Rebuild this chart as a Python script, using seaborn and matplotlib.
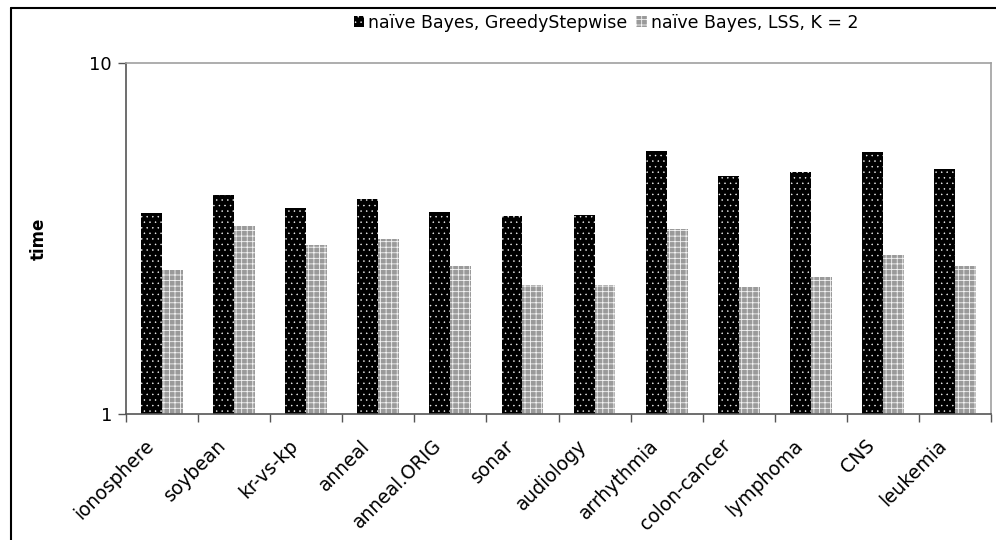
import numpy as np
import pandas as pd
import matplotlib
matplotlib.use("Agg")
import matplotlib.pyplot as plt
from matplotlib.patches import Patch
from matplotlib.lines import Line2D
from matplotlib.transforms import ScaledTranslation
import seaborn as sns

datasets = ["ionosphere", "soybean", "kr-vs-kp", "anneal", "anneal.ORIG", "sonar",
            "audiology", "arrhythmia", "colon-cancer", "lymphoma", "CNS", "leukemia"]
greedy_times = [3.73, 4.21, 3.86, 4.10, 3.76, 3.66, 3.69, 5.61, 4.76, 4.89, 5.58, 4.99]
lss_times = [2.58, 3.43, 3.03, 3.15, 2.64, 2.33, 2.33, 3.37, 2.30, 2.46, 2.84, 2.64]
series_names = ["naïve Bayes, GreedyStepwise", "naïve Bayes, LSS, K = 2"]

df = pd.DataFrame({
    "dataset": datasets * 2,
    "time": greedy_times + lss_times,
    "method": [series_names[0]] * len(datasets) + [series_names[1]] * len(datasets),
})

sns.set_style("white")
plt.rcParams["font.family"] = ["DejaVu Sans"]
plt.rcParams["text.color"] = "black"
plt.rcParams["xtick.color"] = "black"
plt.rcParams["ytick.color"] = "black"
plt.rcParams["axes.labelcolor"] = "black"
plt.rcParams["hatch.linewidth"] = 0.5

fig = plt.figure(figsize=(9.96, 5.40), dpi=100)
ax = fig.add_axes([126 / 996, 1 - 414 / 540, (991 - 126) / 996, (414 - 63) / 540])

sns.barplot(data=df, x="dataset", y="time", hue="method", order=datasets,
            hue_order=series_names, width=0.58, legend=False,
            palette=["black", "#9a9a9a"], saturation=1, ax=ax)
ax.set_yscale("log")

styles = [
    dict(facecolor="black", edgecolor="white", hatch="..."),
    dict(facecolor="#9a9a9a", edgecolor="#f4f4f4", hatch="+++"),
]
hatch_widths = [0.3, 0.6]


def style_patch(p, st, hw):
    p.set_facecolor(st["facecolor"])
    p.set_edgecolor(st["edgecolor"])
    p.set_hatch(st["hatch"])
    p.set_linewidth(0)
    if hasattr(p, "set_hatch_linewidth"):
        p.set_hatch_linewidth(hw)


for cont, st, hw in zip(ax.containers, styles, hatch_widths):
    for bar in cont:
        style_patch(bar, st, hw)

ax.set_ylim(1, 10)
ax.set_xlim(-0.5, len(datasets) - 0.5)
ax.set_yticks([1, 10])
ax.set_yticklabels(["1", "10"])
ax.yaxis.set_minor_locator(matplotlib.ticker.NullLocator())
ax.tick_params(axis="y", which="major", left=True, length=6, width=1,
               color="#555555", labelsize=13, pad=4)

ax.set_xticks(np.arange(len(datasets)))
ax.set_xticklabels(datasets, rotation=45, ha="right", va="top",
                   rotation_mode="anchor", fontsize=13.5)
ax.set_xticks(np.arange(len(datasets) + 1) - 0.5, minor=True)
ax.tick_params(axis="x", which="major", length=0, pad=8)
ax.tick_params(axis="x", which="minor", bottom=True, length=6, width=1, color="#555555")
shift = ScaledTranslation(-0.18, -0.11, fig.dpi_scale_trans)
for lbl in ax.get_xticklabels():
    lbl.set_transform(lbl.get_transform() + shift)

ax.set_xlabel("")
ax.set_ylabel("time", fontsize=12, fontweight="bold")
ax.yaxis.set_label_coords((48 - 126) / 865, 0.5)

for side in ["left", "bottom"]:
    ax.spines[side].set_color("#555555")
    ax.spines[side].set_linewidth(1.2)
for side in ["top", "right"]:
    ax.spines[side].set_color("#a0a0a0")
    ax.spines[side].set_linewidth(1.2)

handles = [Patch(label=n, linewidth=0, **st) for n, st in zip(series_names, styles)]
leg = fig.legend(handles=handles, loc="center", bbox_to_anchor=(606 / 996, 1 - 23 / 540),
                 ncol=2, frameon=False, fontsize=12.5, handlelength=0.6, handleheight=0.6,
                 handletextpad=0.25, columnspacing=0.5)
for h, hw in zip(leg.get_patches(), hatch_widths):
    if hasattr(h, "set_hatch_linewidth"):
        h.set_hatch_linewidth(hw)

# Outer chart frame (left and top edges)
fig.add_artist(Line2D([11 / 996, 11 / 996], [0, 1 - 8 / 540], transform=fig.transFigure,
                      color="black", linewidth=1.5))
fig.add_artist(Line2D([11 / 996, 1], [1 - 8 / 540, 1 - 8 / 540], transform=fig.transFigure,
                      color="black", linewidth=1.5))

fig.savefig("out.png", dpi=100)
